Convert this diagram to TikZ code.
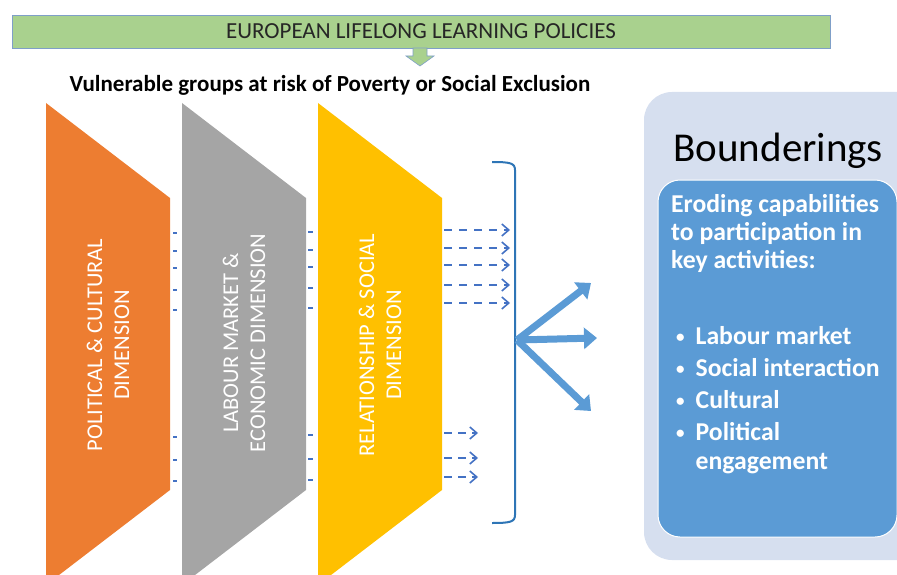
\documentclass[tikz,border=0pt]{standalone}
\usepackage{fontspec}
\setmainfont{Carlito}
\usetikzlibrary{arrows.meta}
\definecolor{cOrange}{HTML}{ED7D31}
\definecolor{cGray}{HTML}{A5A5A5}
\definecolor{cYellow}{HTML}{FFC000}
\definecolor{cBlue}{HTML}{4472C4}
\definecolor{cBracket}{HTML}{2E75B6}
\definecolor{cMid}{HTML}{5B9BD5}
\definecolor{cPale}{HTML}{D6DFEF}
\definecolor{cGreen}{HTML}{A9D18E}
\definecolor{cBorder}{HTML}{7F9FC8}
\newcommand{\smbul}{\raisebox{2pt}{\fontsize{17}{17}\selectfont\textbullet}}
\tikzset{
  dimtext/.style={text=white, font=\fontsize{22.5}{27}\selectfont, align=center, rotate=90},
  dasharrow/.style={cBlue, line width=1.6pt, dash pattern=on 8pt off 7pt, -{Straight Barb[length=7pt,width=12pt]}},
  tick/.style={cBlue, line width=1.5pt},
  fatarrow/.style={cMid, line width=7pt, -{Triangle[length=13pt,width=21pt]}},
}
\begin{document}
\begin{tikzpicture}[x=1pt,y=-1pt]
\useasboundingbox (0,0) rectangle (897,575);
\clip (0,0) rectangle (897,575);
% title
\node (title) [draw=cBorder, fill=cGreen, line width=0.8pt, minimum width=818pt, minimum height=33pt, inner sep=0pt, font=\fontsize{23}{26}\selectfont, text=black!85] at (421,31.5) {EUROPEAN LIFELONG LEARNING POLICIES};
\filldraw[fill=cGreen, draw=cBorder, line width=0.6pt] (413,48) -- (427,48) -- (427,56) -- (434,56) -- (420,66) -- (406,56) -- (413,56) -- cycle;
\node (sub) [font=\bfseries\fontsize{23}{26}\selectfont] at (330,85) {Vulnerable groups at risk of Poverty or Social Exclusion};
% shapes
\fill[cOrange] (46,103) -- (170,198) -- (170,490) -- (46,585) -- cycle;
\fill[cGray] (182,103) -- (306,198) -- (306,490) -- (182,585) -- cycle;
\fill[cYellow] (318,103) -- (442,198) -- (442,490) -- (318,585) -- cycle;
\node (pol) [dimtext] at (108,345) {POLITICAL \& CULTURAL\\DIMENSION};
\node (lab) [dimtext] at (244,343) {LABOUR MARKET \&\\ECONOMIC DIMENSION};
\node (rel) [dimtext] at (380,345) {RELATIONSHIP \& SOCIAL\\DIMENSION};
% small ticks in gaps
\foreach \y in {233,251,268,290,310,437,460,481} {\draw[tick] (173,\y) -- (177,\y);}
\foreach \y in {232,250,267,288,308,435,459,480} {\draw[tick] (308,\y) -- (313,\y);}
% dashed arrows
\foreach \y [count=\i] in {230,248,265,285,303} {
  \coordinate (s\i) at (444,\y); \coordinate (e\i) at (510,\y);
  \draw[dasharrow] (s\i) -- (e\i);}
\foreach \y [count=\i] in {433,458,477} {
  \coordinate (ls\i) at (444,\y); \coordinate (le\i) at (478,\y);
  \draw[dasharrow, dash pattern=on 8pt off 6pt] (ls\i) -- (le\i);}
% bracket
\coordinate (bt) at (492,162);
\coordinate (bb) at (492,523);
\coordinate (bm) at (517,340);
\draw[cBracket, line width=2pt] (bt) .. controls (510,162) and (515,163) .. (515,170) -- (515,515) .. controls (515,522) and (510,523) .. (bb);
% fat arrows
\coordinate (f1) at (591,283);
\coordinate (f2) at (597,338);
\coordinate (f3) at (591,411);
\draw[fatarrow] (bm) -- (f1);
\draw[fatarrow] (bm) -- (f2);
\draw[fatarrow] (bm) -- (f3);
% right panel
\fill[cPale, rounded corners=28pt] (644,92) rectangle (930,560);
\node (bound) [font=\fontsize{41}{44}\selectfont, anchor=base west] at (670,161) {Bounderings};
\draw[fill=cMid, draw=white, line width=1pt, rounded corners=22pt] (658,180) rectangle (897,537);
\node (erode) [text=white, font=\bfseries\fontsize{25.7}{28}\selectfont, align=left, anchor=north west, inner sep=0pt] at (671,194) {Eroding capabilities\\to participation in\\key activities:};
\node (list) [text=white, font=\bfseries\fontsize{25.7}{29}\selectfont, align=left, anchor=north west, inner sep=0pt] at (676,326) {%
\smbul\hspace{11pt}Labour market\\[3pt]
\smbul\hspace{11pt}Social interaction\\[3pt]
\smbul\hspace{11pt}Cultural\\[3pt]
\smbul\hspace{11pt}Political\\
\phantom{\smbul}\hspace{11pt}engagement};
\end{tikzpicture}
\end{document}
